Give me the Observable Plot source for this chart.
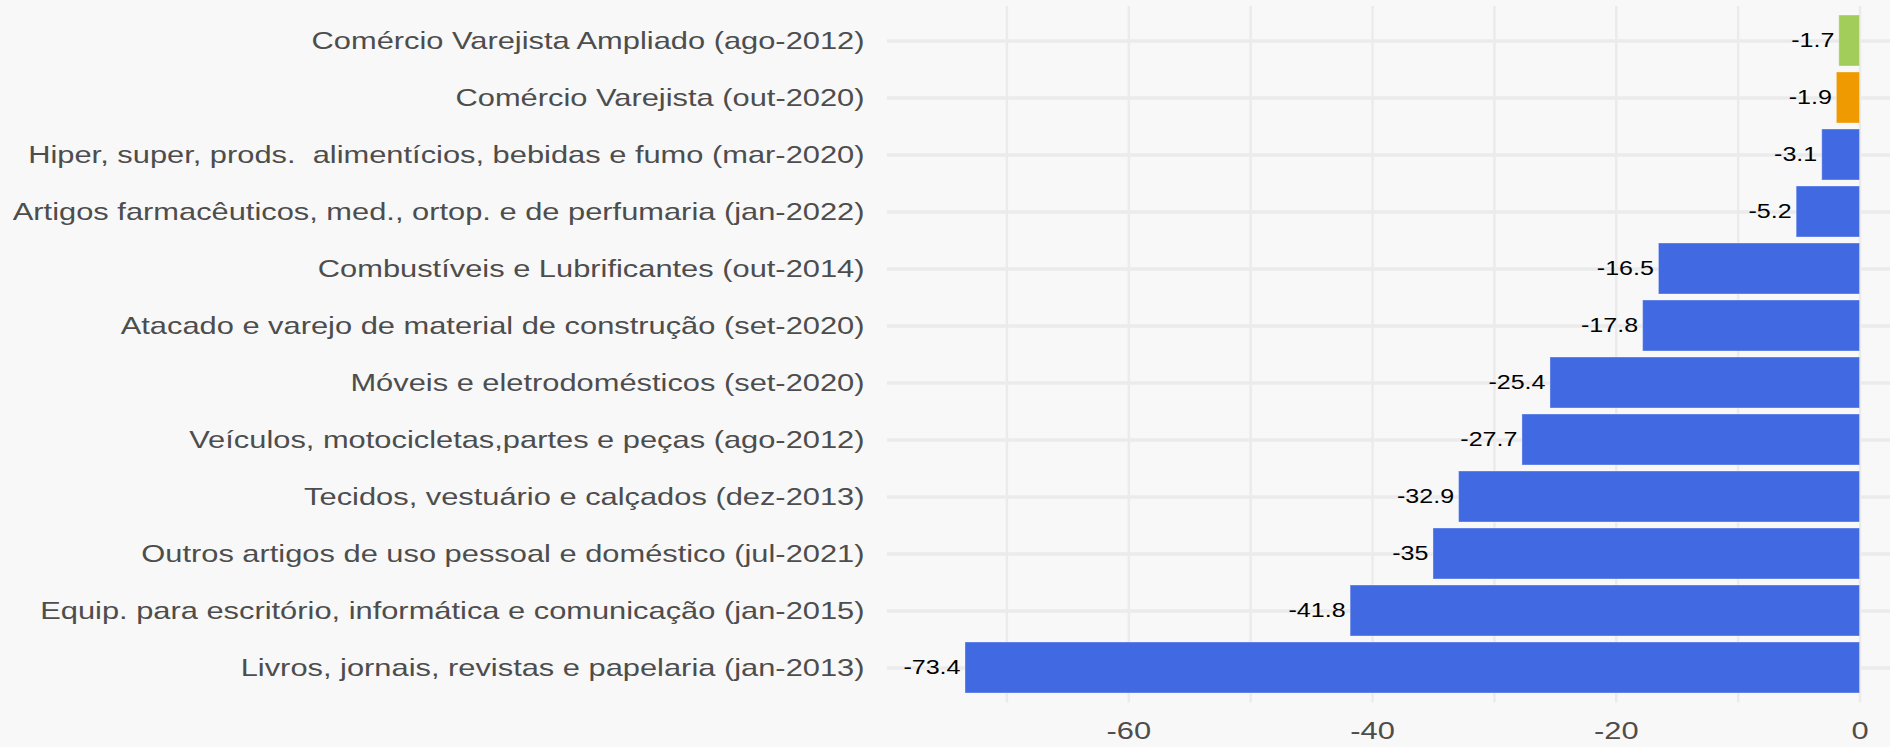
<!DOCTYPE html>
<html>
<head>
<meta charset="utf-8">
<script src="https://cdn.jsdelivr.net/npm/d3@7"></script>
<script src="https://cdn.jsdelivr.net/npm/@observablehq/plot@0.6"></script>
<style>
  html, body { margin: 0; padding: 0; background: #f8f8f8; }
  #chart svg { display: block; background: #f8f8f8; }
</style>
</head>
<body>
<div id="chart"></div>
<script>
const categories = [
  "Comércio Varejista Ampliado (ago-2012)",
  "Comércio Varejista (out-2020)",
  "Hiper, super, prods.  alimentícios, bebidas e fumo (mar-2020)",
  "Artigos farmacêuticos, med., ortop. e de perfumaria (jan-2022)",
  "Combustíveis e Lubrificantes (out-2014)",
  "Atacado e varejo de material de construção (set-2020)",
  "Móveis e eletrodomésticos (set-2020)",
  "Veículos, motocicletas,partes e peças (ago-2012)",
  "Tecidos, vestuário e calçados (dez-2013)",
  "Outros artigos de uso pessoal e doméstico (jul-2021)",
  "Equip. para escritório, informática e comunicação (jan-2015)",
  "Livros, jornais, revistas e papelaria (jan-2013)"
];
const values = [-1.7, -1.9, -3.1, -5.2, -16.5, -17.8, -25.4, -27.7, -32.9, -35, -41.8, -73.4];
const groups = ["ampliado", "varejista", "setor", "setor", "setor", "setor", "setor", "setor", "setor", "setor", "setor", "setor"];
const groupNames = ["ampliado", "varejista", "setor"];
const groupColors = ["#A2CD5A", "#EE9A00", "#4169E1"];
const xTickLabels = [-60, -40, -20, 0];
const xGrid = [-70, -60, -50, -40, -30, -20, -10, 0];

const data = categories.map((c, i) => ({cat: c, value: values[i], group: groups[i]}));

const font = "'Liberation Sans', Arial, Helvetica, sans-serif";

const chart = Plot.plot({
  width: 1890,
  height: 747,
  marginLeft: 887,
  marginRight: 0,
  marginTop: 6,
  marginBottom: 44.6,
  style: {background: "#f8f8f8", fontFamily: font},
  x: {domain: [-79.8, 2.5], axis: null},
  y: {domain: categories, paddingInner: 0.1, paddingOuter: 0.15, axis: null},
  color: {domain: groupNames, range: groupColors},
  marks: [
    Plot.ruleX(xGrid, {x: d => d, stroke: "#ebebeb", strokeWidth: 2.5}),
    Plot.ruleY(categories, {y: d => d, stroke: "#ebebeb", strokeWidth: 3.5}),
    Plot.barX(data, {x: "value", y: "cat", fill: "group", stroke: "#ffffff", strokeOpacity: 0.35, strokeWidth: 1}),
    Plot.text(data, {x: "value", y: "cat", text: d => String(d.value), textAnchor: "end", dx: -5, fontSize: 19.5, fill: "#000000"}),
    Plot.axisY({tickSize: 0, tickPadding: 23, fontSize: 24, fill: "#4d4d4d", label: null}),
    Plot.axisX({ticks: xTickLabels, tickSize: 0, tickPadding: 19.5, fontSize: 24, fill: "#4d4d4d", label: null, tickFormat: d => String(d)})
  ]
});

// The reference's text is horizontally wider than Arial: stretch each label about its anchor.
const stretch = 1.285;
chart.querySelectorAll("text").forEach(t => {
  const tr = t.getAttribute("transform");
  if (tr) {
    t.setAttribute("transform", tr + ` scale(${stretch},1)`);
  } else {
    const x = +(t.getAttribute("x") || 0);
    const y = +(t.getAttribute("y") || 0);
    t.setAttribute("transform", `translate(${x},${y}) scale(${stretch},1) translate(${-x},${-y})`);
  }
});

document.getElementById("chart").appendChild(chart);
</script>
</body>
</html>
